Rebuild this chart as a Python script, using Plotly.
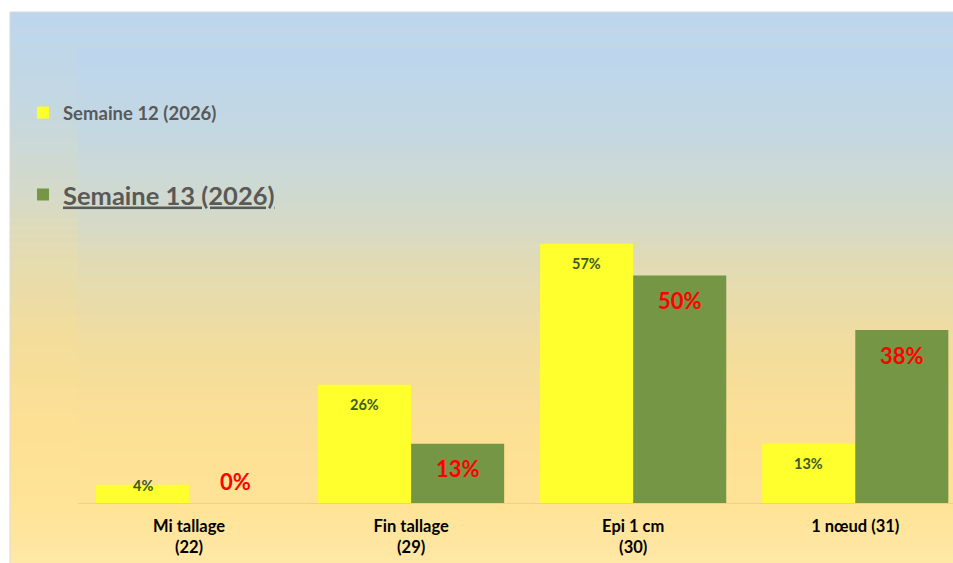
import plotly.graph_objects as go

# ---- data ----
categories = ["Mi tallage<br>(22)", "Fin tallage<br>(29)", "Epi 1 cm<br>(30)", "1 nœud (31)"]
semaine12 = [4, 26, 57, 13]
semaine13 = [0, 13, 50, 38]
name12 = "Semaine 12 (2026)"
name13 = "Semaine 13 (2026)"

# ---- style ----
W, H = 953, 563
ML, MR, MT, MB = 78, 0, 48, 563 - 503
PW, PH = W - ML - MR, H - MT - MB
FONT = "Lato"

def px_to_paper_x(X):
    return (X - ML) / PW

def px_to_paper_y(Y):
    return (H - MB - Y) / PH

# background colour stops (t from top 0 to bottom 1)
stops = [
    (0.00, (189, 214, 238)),
    (0.16, (196, 216, 226)),
    (0.34, (214, 218, 198)),
    (0.40, (224, 219, 182)),
    (0.58, (243, 221, 156)),
    (0.74, (253, 224, 148)),
    (0.89, (255, 227, 150)),
    (1.00, (255, 232, 168)),
]

def colour_at(t):
    for (t0, c0), (t1, c1) in zip(stops[:-1], stops[1:]):
        if t <= t1:
            f = (t - t0) / (t1 - t0) if t1 > t0 else 0
            c = [round(a + (b - a) * f) for a, b in zip(c0, c1)]
            return "rgb(%d,%d,%d)" % tuple(c)
    return "rgb(%d,%d,%d)" % stops[-1][1]

shapes = []
# outer chart area gradient
N = 70
top, bot = 12, 570
for k in range(N):
    y0 = top + (bot - top) * k / N
    y1 = top + (bot - top) * (k + 1) / N + 0.6
    shapes.append(dict(type="rect", xref="paper", yref="paper", layer="below",
                       x0=px_to_paper_x(10), x1=px_to_paper_x(970),
                       y0=px_to_paper_y(y1), y1=px_to_paper_y(y0),
                       fillcolor=colour_at((k + 0.5) / N), line=dict(width=0)))
# inner plot area gradient
for k in range(N):
    shapes.append(dict(type="rect", xref="paper", yref="paper", layer="below",
                       x0=0, x1=1.01,
                       y0=1 - (k + 1) / N - 0.002, y1=1 - k / N,
                       fillcolor=colour_at(((k + 0.5) / N) * 0.86),
                       line=dict(width=0)))
# frame border
shapes.append(dict(type="rect", xref="paper", yref="paper", layer="below",
                   x0=px_to_paper_x(10), x1=px_to_paper_x(975),
                   y0=px_to_paper_y(580), y1=px_to_paper_y(12),
                   fillcolor="rgba(0,0,0,0)", line=dict(color="#d9d9d9", width=1)))

fig = go.Figure()
fig.add_trace(go.Bar(x=categories, y=semaine12, name=name12,
                     marker=dict(color="#ffff2e", line=dict(width=0)),
                     legend="legend", hoverinfo="skip"))
fig.add_trace(go.Bar(x=categories, y=semaine13, name=name13,
                     marker=dict(color="#759645", line=dict(width=0)),
                     legend="legend2", hoverinfo="skip"))

BARGAP = 0.162
half = (1 - BARGAP) / 4
annotations = []
for i, v in enumerate(semaine12):
    annotations.append(dict(x=i - half, y=v, xref="x", yref="y", text="%d%%" % v,
                            showarrow=False, yanchor="middle",
                            yshift=-20 if v > 8 else -1,
                            font=dict(family=FONT, size=14.5, color="#3b5a20", weight="bold")))
for i, v in enumerate(semaine13):
    annotations.append(dict(x=i + half, y=v, xref="x", yref="y", text="%d%%" % v,
                            showarrow=False, yanchor="middle",
                            yshift=-25 if v > 8 else 22,
                            font=dict(family=FONT, size=22, color="#ff0000", weight="bold")))

fig.update_layout(
    width=W, height=H,
    margin=dict(l=ML, r=MR, t=MT, b=MB),
    paper_bgcolor="white", plot_bgcolor="rgba(0,0,0,0)",
    barmode="group", bargap=BARGAP, bargroupgap=0,
    shapes=shapes, annotations=annotations,
    xaxis=dict(range=[-0.5, 3.44], showgrid=False, zeroline=False, ticks="",
               showline=True, linecolor="rgba(235,205,130,0.8)", linewidth=1,
               tickfont=dict(family=FONT, size=16.5, color="#000000", weight="bold"),
               ticklabelstandoff=8),
    yaxis=dict(range=[0, 100], visible=False, showgrid=False, zeroline=False),
    legend=dict(x=px_to_paper_x(23), y=px_to_paper_y(113), xanchor="left", yanchor="middle",
                bgcolor="rgba(0,0,0,0)",
                font=dict(family=FONT, size=18.5, color="#595959", weight="bold")),
    legend2=dict(x=px_to_paper_x(23), y=px_to_paper_y(195), xanchor="left", yanchor="middle",
                 bgcolor="rgba(0,0,0,0)",
                 font=dict(family=FONT, size=25.5, color="#595959", weight="bold",
                           lineposition="under")),
    showlegend=True,
)

fig.write_html("out.html", config={"displayModeBar": False},
               post_script="document.body.style.margin='0';document.body.style.overflow='hidden';")
